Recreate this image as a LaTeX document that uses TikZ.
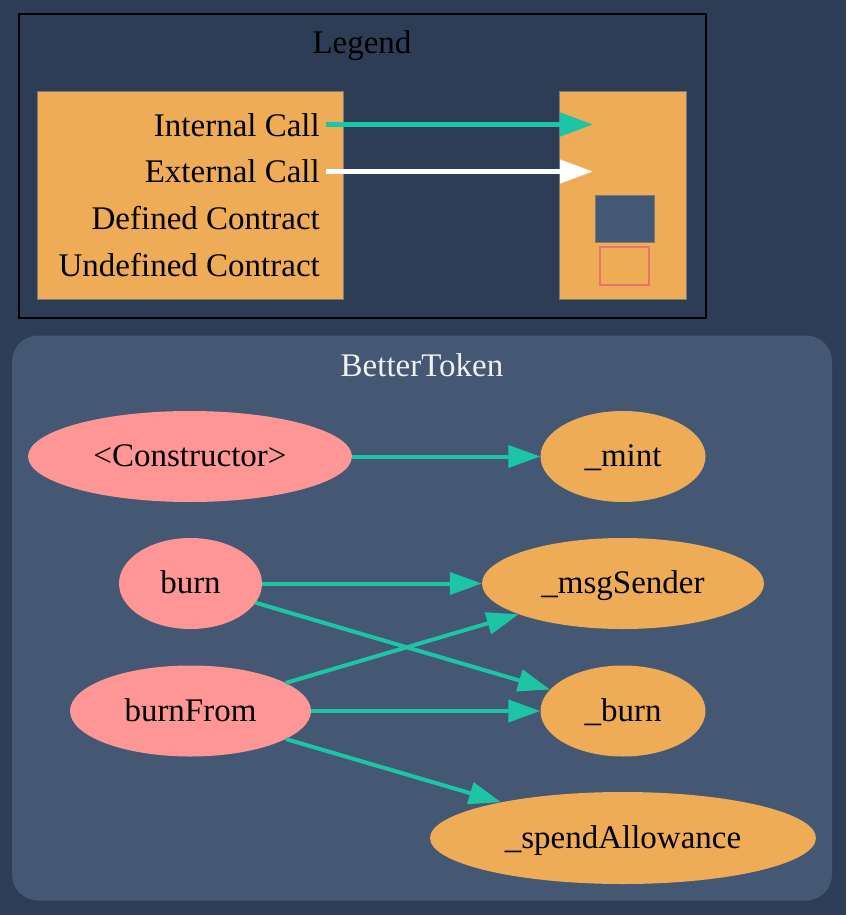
\documentclass[tikz,border=0pt]{standalone}
\usepackage{fontspec}
\setmainfont{Liberation Serif}
\usetikzlibrary{arrows.meta,shapes.geometric}
\definecolor{bgc}{HTML}{2E3D56}
\definecolor{clusterc}{HTML}{445773}
\definecolor{orangec}{HTML}{EDAC55}
\definecolor{pinkc}{HTML}{FF9696}
\definecolor{tealc}{HTML}{1BC5A6}
\definecolor{redc}{HTML}{E8726D}
\definecolor{titlec}{HTML}{F0F0F0}
\definecolor{edgec}{HTML}{7A7A7A}
\begin{document}
\begin{tikzpicture}[x=1pt,y=-1pt,
  every node/.style={font=\fontsize{33}{39}\selectfont},
  fn/.style={ellipse, draw=none, inner sep=0pt, text height=25pt, text depth=5pt, minimum height=91pt},
  pubfn/.style={fn, fill=pinkc},
  privfn/.style={fn, fill=orangec},
  call/.style={draw=tealc, line width=4pt, -{Triangle[length=32pt,width=22pt]}},
  legcall/.style={line width=4.5pt, -{Triangle[length=33pt,width=23pt]}},
  legbox/.style={rectangle, fill=orangec, draw=edgec, line width=0.6pt, inner sep=0pt},
  legtext/.style={anchor=base east, inner sep=0pt}
]
\useasboundingbox (0,0) rectangle (846,915);
\fill[bgc] (0,0) rectangle (846,915);

% Legend
\draw[black, line width=2pt, fill=bgc] (18.5,14) rectangle (705.5,317.5);
\node[anchor=base, inner sep=0pt] (legendtitle) at (362,54) {Legend};
\node[legbox, minimum width=306pt, minimum height=208pt] (keys) at (190,195) {};
\node[legbox, minimum width=127.5pt, minimum height=208pt] (vals) at (623,195) {};
\node[legtext] (tint) at (320,136) {Internal Call};
\node[legtext] (text) at (320,182.7) {External Call};
\node[legtext] (tdef) at (320,229.4) {Defined Contract};
\node[legtext] (tundef) at (320,276.1) {Undefined Contract};
\coordinate (ia) at (326,124.5);
\coordinate (ib) at (593,124.5);
\coordinate (ea) at (326,171.5);
\coordinate (eb) at (593,171.5);
\draw[legcall, draw=tealc] (ia) -- (ib);
\draw[legcall, draw=white] (ea) -- (eb);
\node[rectangle, fill=clusterc, draw=edgec, line width=0.6pt, inner sep=0pt, minimum width=59pt, minimum height=47.5pt] (defbox) at (624.5,219) {};
\node[rectangle, fill=orangec, draw=redc, line width=2pt, inner sep=0pt, minimum width=49pt, minimum height=38pt] (undefbox) at (624.7,266) {};

% Cluster
\fill[clusterc, rounded corners=26pt] (12,335.5) rectangle (832,900.5);
\node[anchor=base, inner sep=0pt, text=titlec] (clustertitle) at (422,376) {BetterToken};

% Function nodes
\node[pubfn, minimum width=324pt] (ctor) at (190,456.5) {<Constructor>};
\node[privfn, minimum width=165pt] (mint) at (623,456.5) {\_mint};
\node[pubfn, minimum width=143pt] (burn) at (190.5,583.5) {burn};
\node[privfn, minimum width=282pt] (msg) at (623,583.5) {\_msgSender};
\node[pubfn, minimum width=241pt] (bfrom) at (190.5,711) {burnFrom};
\node[privfn, minimum width=165pt] (bburn) at (623,711) {\_burn};
\node[privfn, minimum width=386pt, minimum height=92pt] (spend) at (623,838) {\_spendAllowance};

% Calls
\draw[call] (ctor) -- (mint);
\draw[call] (burn) -- (msg);
\draw[call] (burn) -- (bburn);
\draw[call] (bfrom) -- (msg);
\draw[call] (bfrom) -- (bburn);
\draw[call] (bfrom) -- (spend);
\end{tikzpicture}
\end{document}
